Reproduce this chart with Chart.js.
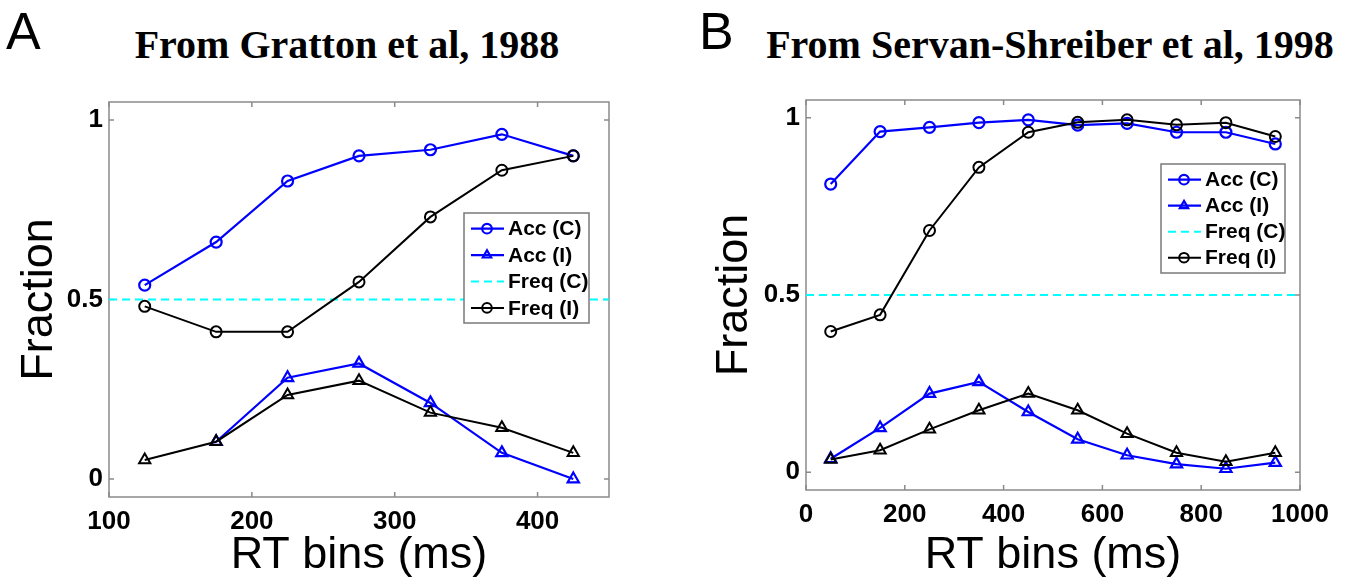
<!DOCTYPE html>
<html>
<head>
<meta charset="utf-8">
<script src="https://cdn.jsdelivr.net/npm/chart.js@4/dist/chart.umd.min.js"></script>
<style>
  body { margin: 0; background: #fff; width: 1352px; height: 587px; position: relative; overflow: hidden; }
  canvas { position: absolute; top: 0; }
  #chart-a { left: 0; }
  #chart-b { left: 680px; }
  .panel-letter { position: absolute; font: 52px/52px "Liberation Sans", Arial, sans-serif; color: #000; }
  .panel-title { position: absolute; font: bold 40px/40px "Liberation Serif", "Times New Roman", serif; color: #000; text-align: center; white-space: nowrap; }
</style>
</head>
<body>
<div class="panel-letter" style="left:6px; top:5px;">A</div>
<div class="panel-letter" style="left:699px; top:5px;">B</div>
<div class="panel-title" style="left:47px; width:600px; top:25px;">From Gratton et al, 1988</div>
<div class="panel-title" style="left:750px; width:600px; top:25px;">From Servan-Shreiber et al, 1998</div>
<canvas id="chart-a" width="680" height="587"></canvas>
<canvas id="chart-b" width="672" height="587"></canvas>
<script>
// panel A (Gratton et al, 1988)
const binsA = [125, 175, 225, 275, 325, 375, 425];
const accCorrA = [0.54, 0.66, 0.83, 0.90, 0.917, 0.96, 0.90];
const accIncA = [null, 0.104, 0.282, 0.322, 0.212, 0.073, 0.0];
const freqCircA = [0.481, 0.41, 0.41, 0.549, 0.73, 0.86, 0.90];
const freqTriA = [0.053, 0.104, 0.234, 0.274, 0.185, 0.143, 0.073];
const freqCxA = [100, 450];
const freqCyA = [0.5, 0.5];
const xTicksA = [100, 200, 300, 400];

// panel B (Servan-Shreiber et al, 1998)
const binsB = [50, 150, 250, 350, 450, 550, 650, 750, 850, 950];
const accCorrB = [0.813, 0.961, 0.973, 0.986, 0.994, 0.979, 0.984, 0.959, 0.959, 0.926];
const accIncB = [0.038, 0.125, 0.222, 0.255, 0.170, 0.093, 0.048, 0.023, 0.010, 0.027];
const freqCircB = [0.397, 0.444, 0.682, 0.860, 0.959, 0.987, 0.994, 0.980, 0.986, 0.947];
const freqTriB = [0.036, 0.062, 0.121, 0.175, 0.222, 0.175, 0.109, 0.055, 0.030, 0.055];
const freqCxB = [0, 1000];
const freqCyB = [0.5, 0.5];
const xTicksB = [0, 200, 400, 600, 800, 1000];

const yTicks = [0, 0.5, 1];
const legendLabels = ["Acc (C)", "Acc (I)", "Freq (C)", "Freq (I)"];

const SANS = '"Liberation Sans", Arial, Helvetica, sans-serif';
const BLUE = "#0000ff";
const CYAN = "#00ffff";
const BOX = "#8a8a8a";

function pts(xs, ys) {
  return xs.map((x, i) => ({ x: x, y: ys[i] }));
}

// matlab style box with inward tick marks
const boxPlugin = {
  id: "matlabBox",
  beforeDatasetsDraw(chart) {
    const { ctx, chartArea: a, scales } = chart;
    ctx.save();
    ctx.strokeStyle = BOX;
    ctx.lineWidth = 1.5;
    ctx.strokeRect(a.left, a.top, a.right - a.left, a.bottom - a.top);
    ctx.beginPath();
    scales.x.ticks.forEach((t) => {
      const px = scales.x.getPixelForValue(t.value);
      ctx.moveTo(px, a.bottom); ctx.lineTo(px, a.bottom - 5);
      ctx.moveTo(px, a.top); ctx.lineTo(px, a.top + 5);
    });
    scales.y.ticks.forEach((t) => {
      const py = scales.y.getPixelForValue(t.value);
      ctx.moveTo(a.left, py); ctx.lineTo(a.left + 5, py);
      ctx.moveTo(a.right, py); ctx.lineTo(a.right - 5, py);
    });
    ctx.stroke();
    ctx.restore();
  },
};

// legend drawn inside the axes, line sample with marker in the middle
const legendPlugin = {
  id: "boxLegend",
  afterDatasetsDraw(chart, args, opts) {
    const { ctx, chartArea: a } = chart;
    const x = a.right - opts.right - opts.width;
    const y = a.top + opts.top;
    const entries = chart.data.datasets
      .filter((ds) => ds.legendRank !== undefined)
      .sort((p, q) => p.legendRank - q.legendRank);
    ctx.save();
    ctx.fillStyle = "#fff";
    ctx.fillRect(x, y, opts.width, opts.height);
    ctx.strokeStyle = "#7a7a7a";
    ctx.lineWidth = 1.5;
    ctx.strokeRect(x, y, opts.width, opts.height);
    entries.forEach((ds, i) => {
      const cy = y + opts.first + i * opts.row;
      ctx.strokeStyle = ds.borderColor;
      ctx.lineWidth = ds.borderWidth;
      ctx.setLineDash(ds.borderDash || []);
      ctx.beginPath();
      ctx.moveTo(x + 7, cy);
      ctx.lineTo(x + 40, cy);
      ctx.stroke();
      ctx.setLineDash([]);
      if (ds.pointRadius > 0) {
        ctx.fillStyle = "rgba(0,0,0,0)";
        ctx.strokeStyle = ds.pointBorderColor;
        ctx.lineWidth = ds.pointBorderWidth;
        Chart.helpers.drawPoint(ctx, { pointStyle: ds.pointStyle, radius: 4.8, borderWidth: ds.pointBorderWidth, rotation: 0 }, x + 23, cy);
      }
      ctx.fillStyle = "#000";
      ctx.font = "bold 21px " + SANS;
      ctx.textBaseline = "middle";
      ctx.fillText(legendLabels[ds.legendRank], x + 44, cy + 1);
    });
    ctx.restore();
  },
};

function line(data, color, width, style, radius, extra) {
  return Object.assign({
    data: data,
    borderColor: color,
    borderWidth: width,
    pointStyle: style,
    pointRadius: radius,
    pointBorderColor: color,
    pointBorderWidth: width,
    pointBackgroundColor: "rgba(0,0,0,0)",
    fill: false,
    tension: 0,
  }, extra || {});
}

function makeChart(id, cfg) {
  const tickFont = { family: SANS, size: 26, weight: "bold" };
  const titleFont = { family: SANS, size: 45 };
  return new Chart(document.getElementById(id), {
    type: "line",
    data: {
      datasets: [
        // black first so it is painted on top
        line(pts(cfg.bins, cfg.freqTri), "#000", 2, "triangle", 6.5),
        line(pts(cfg.bins, cfg.freqCirc), "#000", 2, "circle", 5.5, { legendRank: 3 }),
        line(pts(cfg.freqCx, cfg.freqCy), CYAN, 2, "circle", 0, { borderDash: [8, 5], legendRank: 2 }),
        line(pts(cfg.bins, cfg.accInc), BLUE, 2.2, "triangle", 6.5, { legendRank: 1 }),
        line(pts(cfg.bins, cfg.accCorr), BLUE, 2.2, "circle", 5.5, { legendRank: 0 }),
      ],
    },
    options: {
      responsive: false,
      animation: false,
      layout: { padding: { left: 0, right: cfg.padRight, top: cfg.padTop, bottom: 0 } },
      plugins: {
        legend: { display: false },
        tooltip: { enabled: false },
        boxLegend: cfg.legend,
      },
      scales: {
        x: {
          type: "linear",
          min: cfg.xMin,
          max: cfg.xMax,
          afterBuildTicks: (s) => { s.ticks = cfg.xTicks.map((v) => ({ value: v })); },
          afterFit: (s) => { s.height = cfg.xHeight; },
          grid: { display: false, drawTicks: false },
          border: { display: false },
          ticks: { autoSkip: false, maxRotation: 0, padding: 9, color: "#000", font: tickFont, callback: (v) => String(v) },
          title: { display: true, text: "RT bins (ms)", color: "#000", font: titleFont, padding: { top: 0, bottom: 4 } },
        },
        y: {
          type: "linear",
          min: -0.05,
          max: 1.05,
          afterBuildTicks: (s) => { s.ticks = yTicks.map((v) => ({ value: v })); },
          afterFit: (s) => { s.width = cfg.yWidth; },
          grid: { display: false, drawTicks: false },
          border: { display: false },
          ticks: { padding: 6, color: "#000", font: tickFont, callback: (v) => String(v) },
          title: { display: true, text: "Fraction", color: "#000", font: titleFont, padding: { top: cfg.yTitlePad, bottom: 0 } },
        },
      },
    },
    plugins: [boxPlugin, legendPlugin],
  });
}

makeChart("chart-a", {
  bins: binsA, accCorr: accCorrA, accInc: accIncA, freqCirc: freqCircA, freqTri: freqTriA,
  freqCx: freqCxA, freqCy: freqCyA, xTicks: xTicksA, xMin: 100, xMax: 450,
  padRight: 71, padTop: 102, xHeight: 90, yWidth: 109, yTitlePad: 13,
  legend: { right: 20, top: 111, width: 125, height: 110, first: 15.7, row: 26.4 },
});

makeChart("chart-b", {
  bins: binsB, accCorr: accCorrB, accInc: accIncB, freqCirc: freqCircB, freqTri: freqTriB,
  freqCx: freqCxB, freqCy: freqCyB, xTicks: xTicksB, xMin: 0, xMax: 1000,
  padRight: 52, padTop: 100, xHeight: 97, yWidth: 126, yTitlePad: 28,
  legend: { right: 15, top: 64, width: 124, height: 109, first: 15.7, row: 26 },
});
</script>
</body>
</html>
